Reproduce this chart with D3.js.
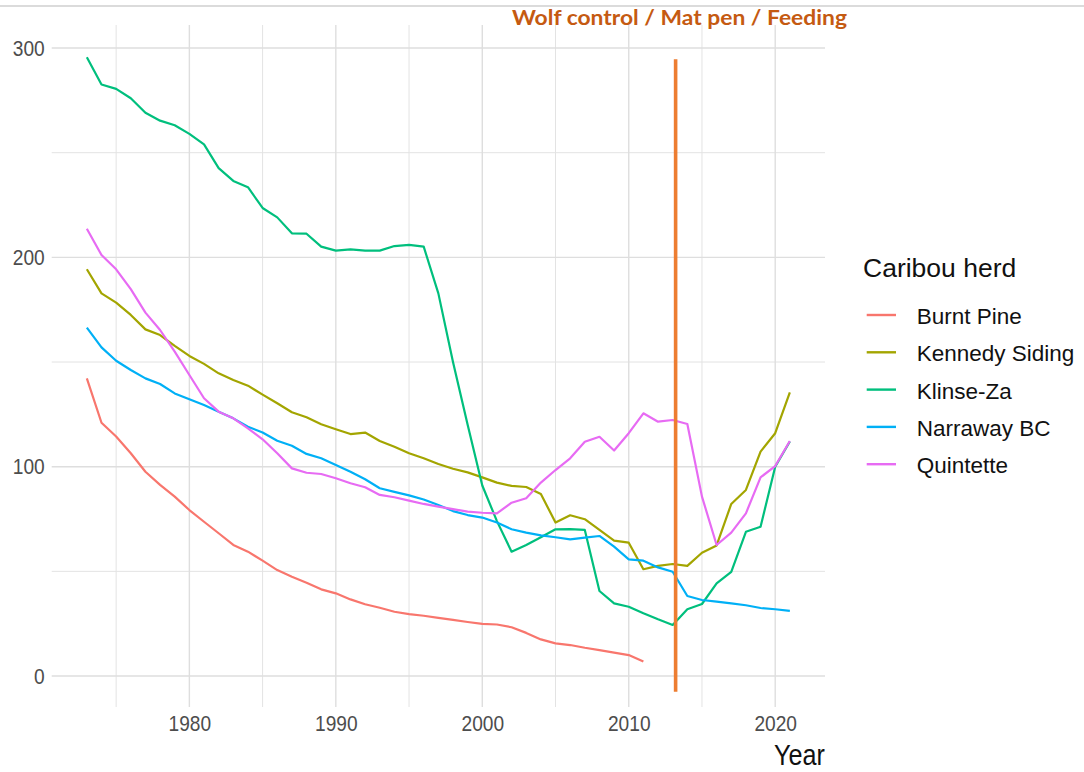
<!DOCTYPE html>
<html>
<head>
<meta charset="utf-8">
<script src="https://cdn.jsdelivr.net/npm/d3@7"></script>
<style>
  body { margin: 0; background: #fff; }
  svg { display: block; font-family: "Liberation Sans", Arial, sans-serif; }
</style>
</head>
<body>
<div id="chart"></div>
<script>
// ── data ───────────────────────────────────────────────
const years = [1973,1974,1975,1976,1977,1978,1979,1980,1981,1982,
  1983,1984,1985,1986,1987,1988,1989,1990,1991,1992,
  1993,1994,1995,1996,1997,1998,1999,2000,2001,2002,
  2003,2004,2005,2006,2007,2008,2009,2010,2011,2012,
  2013,2014,2015,2016,2017,2018,2019,2020,2021];

const herds  = ['Burnt Pine', 'Kennedy Siding', 'Klinse-Za', 'Narraway BC', 'Quintette'];
const colors = ['#F8766D', '#A3A500', '#00BF7D', '#00B0F6', '#E76BF3'];

// Burnt Pine stops in 2011
const burntPine = [142.2,121,114.4,106.4,97.6,91.3,85.7,79.3,73.7,68.2,
  62.6,59.4,55.1,50.6,47.4,44.6,41.4,39.5,36.6,34.3,
  32.6,30.7,29.6,28.8,27.8,26.8,25.8,24.9,24.6,23.3,
  20.6,17.5,15.6,14.8,13.5,12.4,11.2,10,6.9];
const kennedySiding = [194.3,182.8,178.4,172.5,165.6,162.9,157.7,152.9,149.1,144.6,
  141.4,138.7,134.4,130.3,126,123.6,120.3,117.9,115.6,116.3,
  112.3,109.5,106.4,104,101.3,99,97.3,94.9,92.4,90.8,
  90.3,87,73.3,76.8,74.9,69.8,64.7,63.7,51,52.6,
  53.5,52.6,58.9,62.4,82.2,88.9,107.2,116,135.5];
const klinseZa = [295.6,282.6,280.5,276,269.1,265.3,263.1,259,254,242.6,
  236.5,233.5,223.6,219.1,211.5,211.3,205.1,203.2,203.8,203.2,
  203.2,205.4,206,205.1,182.8,150,120,91,74,59.4,
  62.6,66.3,70.1,70.2,69.8,40.6,34.7,33.1,30,27.1,
  24.4,31.9,34.4,44.3,49.8,68.9,71.3,100,112];
const narrawayBC = [166.4,157,150.6,146.2,142.2,139.5,135,132.2,129.5,126.3,
  123.1,119.1,116.3,112.4,110,106.1,104,100.8,97.6,94,
  89.7,88,86.3,84.3,81.7,78.8,76.9,75.7,73.3,70.1,
  68.5,67.2,66.3,65.3,66.1,66.9,61.8,55.7,55.1,51.9,
  49.8,38.2,36.3,35.5,34.7,33.8,32.5,31.9,31.1];
const quintette = [213.7,201.1,194.3,184.8,173.6,165.3,155,143.8,132.7,126.3,
  123.1,118.3,113.1,106.4,99.2,97.1,96.5,94.5,92.1,90.2,
  86.5,85.4,83.8,82.2,80.9,79.7,78.5,78,77.7,82.8,
  84.9,92.4,98.4,104,111.9,114.3,107.7,116,125.5,121.5,
  122.3,120.4,85.7,62.6,68.5,77.7,94.9,100.3,112.3];
const herdValues = [burntPine, kennedySiding, klinseZa, narrawayBC, quintette];

const yTicks  = [0, 100, 200, 300];
const yMinor  = [50, 150, 250];
const xTicks  = [1980, 1990, 2000, 2010, 2020];
const xMinor  = [1975, 1985, 1995, 2005, 2015];

const treatmentYear  = 2013.2;
const treatmentRange = [-7.5, 294.6];
const treatmentLabel = 'Wolf control / Mat pen / Feeding';
const legendTitle = 'Caribou herd';
const xTitle = 'Year';

// ── layout ─────────────────────────────────────────────
const W = 1084, H = 772;
const panel = { left: 51.7, right: 825, top: 25, bottom: 707 };

const svg = d3.select('#chart').append('svg')
  .attr('width', W).attr('height', H);

const x = d3.scaleLinear().domain([1970.6, 2023.4]).range([panel.left, panel.right]);
const y = d3.scaleLinear().domain([-14.8, 311]).range([panel.bottom, panel.top]);

// keep a text's anchor where it is but squeeze it sideways
function squeeze(sel, sx) {
  sel.attr('transform', function() {
    const ax = +this.getAttribute('x') || 0;
    return `translate(${ax * (1 - sx)},0) scale(${sx},1)`;
  });
}

// thin rule at the very top of the picture
svg.append('line')
  .attr('x1', 0).attr('x2', W).attr('y1', 6).attr('y2', 6)
  .attr('stroke', '#cfcfcf').attr('stroke-width', 1.3);

// ── grid ───────────────────────────────────────────────
const grid = svg.append('g');
grid.selectAll('.hminor').data(yMinor).join('line')
  .attr('x1', panel.left).attr('x2', panel.right)
  .attr('y1', d => y(d)).attr('y2', d => y(d))
  .attr('stroke', '#e3e3e3').attr('stroke-width', 1);
grid.selectAll('.vminor').data(xMinor).join('line')
  .attr('y1', panel.top).attr('y2', panel.bottom)
  .attr('x1', d => x(d)).attr('x2', d => x(d))
  .attr('stroke', '#e3e3e3').attr('stroke-width', 1);
grid.selectAll('.hmajor').data(yTicks).join('line')
  .attr('x1', panel.left).attr('x2', panel.right)
  .attr('y1', d => y(d)).attr('y2', d => y(d))
  .attr('stroke', '#dedede').attr('stroke-width', 1.4);
grid.selectAll('.vmajor').data(xTicks).join('line')
  .attr('y1', panel.top).attr('y2', panel.bottom)
  .attr('x1', d => x(d)).attr('x2', d => x(d))
  .attr('stroke', '#dedede').attr('stroke-width', 1.4);

// ── axes (labels only, theme_minimal style) ────────────
const yAxis = svg.append('g')
  .attr('transform', `translate(${panel.left},0)`)
  .call(d3.axisLeft(y).tickValues(yTicks).tickSize(0).tickPadding(7));
const xAxis = svg.append('g')
  .attr('transform', `translate(0,${panel.bottom})`)
  .call(d3.axisBottom(x).tickValues(xTicks).tickFormat(d3.format('d')).tickSize(0).tickPadding(8));
[yAxis, xAxis].forEach(ax => {
  ax.select('.domain').remove();
  ax.selectAll('text')
    .attr('fill', '#4d4d4d')
    .style('font-size', '22px')
    .call(squeeze, 0.87);
});

svg.append('text')
  .attr('x', panel.right).attr('y', 765)
  .attr('text-anchor', 'end')
  .style('font-size', '30px').attr('fill', '#111')
  .text(xTitle)
  .call(squeeze, 0.84);

// ── herd lines ─────────────────────────────────────────
const series = herds.map((name, i) => ({
  name, color: colors[i],
  values: herdValues[i].map((v, j) => ({ year: years[j], value: v }))
}));

const line = d3.line()
  .x(d => x(d.year))
  .y(d => y(d.value));

svg.append('g').selectAll('path')
  .data(series)
  .join('path')
    .attr('d', d => line(d.values))
    .attr('fill', 'none')
    .attr('stroke', d => d.color)
    .attr('stroke-width', 2.2)
    .attr('stroke-linejoin', 'round');

// ── treatment marker ───────────────────────────────────
svg.append('line')
  .attr('x1', x(treatmentYear)).attr('x2', x(treatmentYear))
  .attr('y1', y(treatmentRange[0])).attr('y2', y(treatmentRange[1]))
  .attr('stroke', '#ED7D31').attr('stroke-width', 3.6);

svg.append('text')
  .attr('x', 512).attr('y', 24.5)
  .attr('textLength', 335).attr('lengthAdjust', 'spacingAndGlyphs')
  .style('font-family', 'Lato, "Open Sans", sans-serif')
  .style('font-weight', 700).style('font-size', '21px')
  .attr('fill', '#C55A11')
  .text(treatmentLabel);

// ── legend ─────────────────────────────────────────────
const legend = svg.append('g');
legend.append('text')
  .attr('x', 863).attr('y', 276.5)
  .style('font-size', '26.5px').attr('fill', '#111')
  .text(legendTitle);

const items = legend.selectAll('.item')
  .data(series)
  .join('g')
    .attr('transform', (d, i) => `translate(0,${315 + i * 37.3})`);
items.append('line')
  .attr('x1', 866.7).attr('x2', 896)
  .attr('stroke', d => d.color).attr('stroke-width', 2.4);
items.append('text')
  .attr('x', 916.7).attr('y', 9)
  .style('font-size', '22.5px').attr('fill', '#111')
  .text(d => d.name);
</script>
</body>
</html>
